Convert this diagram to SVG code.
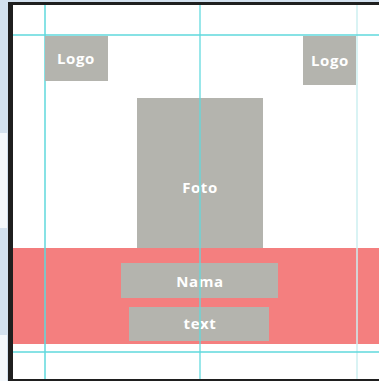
<svg xmlns="http://www.w3.org/2000/svg" width="379" height="381" viewBox="0 0 379 381">
  <style>
    .box { fill: #b4b4ae; }
    .lbl { fill: #ffffff; font-family: "Open Sans", "Liberation Sans", sans-serif; font-weight: 700; font-size: 15px; letter-spacing: 0.6px; text-anchor: middle; dominant-baseline: central; }
    .guide { stroke: #5fd9dd; stroke-width: 1.5; fill: none; }
    .guide-faint { stroke: #cdeff1; stroke-width: 1.5; fill: none; }
  </style>

  <!-- surrounding workspace -->
  <rect x="0" y="0" width="379" height="381" fill="#d3e1ef"/>
  <rect x="0" y="133" width="7" height="95" fill="#f4f8fc"/>
  <rect x="0" y="335" width="7" height="46" fill="#f4f8fc"/>

  <!-- artboard -->
  <rect x="8" y="2" width="371" height="379" fill="#1f1f1f"/>
  <rect x="13" y="5" width="366" height="374" fill="#ffffff"/>

  <!-- bottom band -->
  <g id="band">
    <rect x="13" y="248" width="366" height="96" fill="#f47f7f"/>
    <rect x="13" y="248" width="32" height="96" fill="#f27a7b" opacity="0.6"/>
  </g>

  <!-- layout guides -->
  <g id="guides">
    <line class="guide-faint" x1="357" y1="5" x2="357" y2="379"/>
    <line class="guide" x1="13" y1="35" x2="379" y2="35"/>
    <line class="guide" x1="13" y1="352" x2="379" y2="352"/>
    <line class="guide" x1="45" y1="5" x2="45" y2="379"/>
  </g>

  <g id="logo-left">
    <rect class="box" x="45" y="36" width="63" height="45"/>
    <text class="lbl" x="76" y="58">Logo</text>
  </g>

  <g id="logo-right">
    <rect class="box" x="303" y="36" width="53" height="49"/>
    <text class="lbl" x="330" y="60">Logo</text>
  </g>

  <g id="foto">
    <rect class="box" x="137" y="98" width="126" height="150"/>
    <text class="lbl" x="200" y="187">Foto</text>
  </g>

  <g id="nama">
    <rect class="box" x="121" y="263" width="157" height="35"/>
    <text class="lbl" x="200" y="281">Nama</text>
  </g>

  <g id="text">
    <rect class="box" x="129" y="307" width="140" height="34"/>
    <text class="lbl" x="200" y="323">text</text>
  </g>

  <!-- centre guide drawn above the content -->
  <line class="guide" x1="200" y1="5" x2="200" y2="379" opacity="0.85"/>
</svg>
